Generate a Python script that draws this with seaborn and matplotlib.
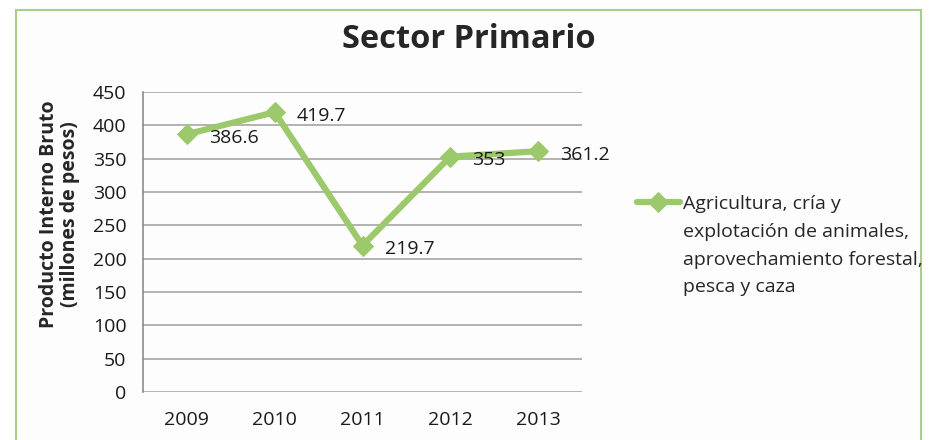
import pandas as pd
import matplotlib.pyplot as plt
import seaborn as sns
from matplotlib.patches import Rectangle

# Datos del sector primario
years = ["2009", "2010", "2011", "2012", "2013"]
pib = [386.6, 419.7, 219.7, 353, 361.2]
labels = ["386.6", "419.7", "219.7", "353", "361.2"]
serie = "Agricultura, cría y\nexplotación de animales,\naprovechamiento forestal,\npesca y caza"

GREEN = "#9bc96c"

data = pd.DataFrame({"Año": years, "PIB": pib})

sns.set_style("white")
plt.rcParams["font.family"] = ["Open Sans", "DejaVu Sans"]

W, H = 932, 440
fig = plt.figure(figsize=(W / 100, H / 100), dpi=100)
fig.patch.set_facecolor("white")
# marco verde del gráfico
fig.patches.append(Rectangle((16 / W, -0.05), 905 / W, 1.05 - 10 / H,
                             transform=fig.transFigure, facecolor="#fdfdfd",
                             edgecolor="#a8cf86", linewidth=1.5, zorder=-1))

ax = fig.add_axes([143 / W, 1 - 392 / H, 439 / W, 300 / H])
ax.set_facecolor("#fdfdfd")

sns.lineplot(data=data, x="Año", y="PIB", ax=ax, color=GREEN, linewidth=4.5,
             marker="D", markersize=10, markeredgecolor=GREEN, label=serie,
             sort=False)

for i, (v, t) in enumerate(zip(pib, labels)):
    ax.annotate(t, (i, v), xytext=(16, -2.5), textcoords="offset points",
                ha="left", va="center", fontsize=14, color="#1a1a1a")

ax.set_xlim(-0.5, 4.5)
ax.set_ylim(0, 450)
ax.set_yticks(range(0, 451, 50))
ax.yaxis.grid(True, color="#a6a6a6", linewidth=1.2)
for s in ["top", "right", "bottom"]:
    ax.spines[s].set_visible(False)
ax.spines["left"].set_color("#8c8c8c")
ax.spines["left"].set_linewidth(1.2)
ax.tick_params(axis="both", labelsize=14, colors="#1a1a1a", length=0, pad=12)
ax.tick_params(axis="x", pad=14)

ax.set_xlabel("")
ax.set_ylabel("Producto Interno Bruto\n(millones de pesos)", fontsize=14,
              fontweight="bold", labelpad=9, linespacing=1.05)
ax.yaxis.label.set_y((392 - 214) / 300)

fig.suptitle("Sector Primario", x=(16 + 921) / 2 / W, y=1 - 40 / H,
             va="center", fontsize=23.5, fontweight="bold")

leg = ax.legend(loc="upper left", bbox_to_anchor=(637 / W, 1 - 195 / H),
                bbox_transform=fig.transFigure, frameon=False, fontsize=14,
                handlelength=2.2, handletextpad=0.15, borderpad=0,
                borderaxespad=0)
for txt in leg.get_texts():
    txt.set_linespacing(1.7)
# alinear el marcador con la primera línea del texto
for col in leg._legend_handle_box.get_children():
    for row in col.get_children():
        row.align = "top"

plt.savefig("out.png", dpi=100)
